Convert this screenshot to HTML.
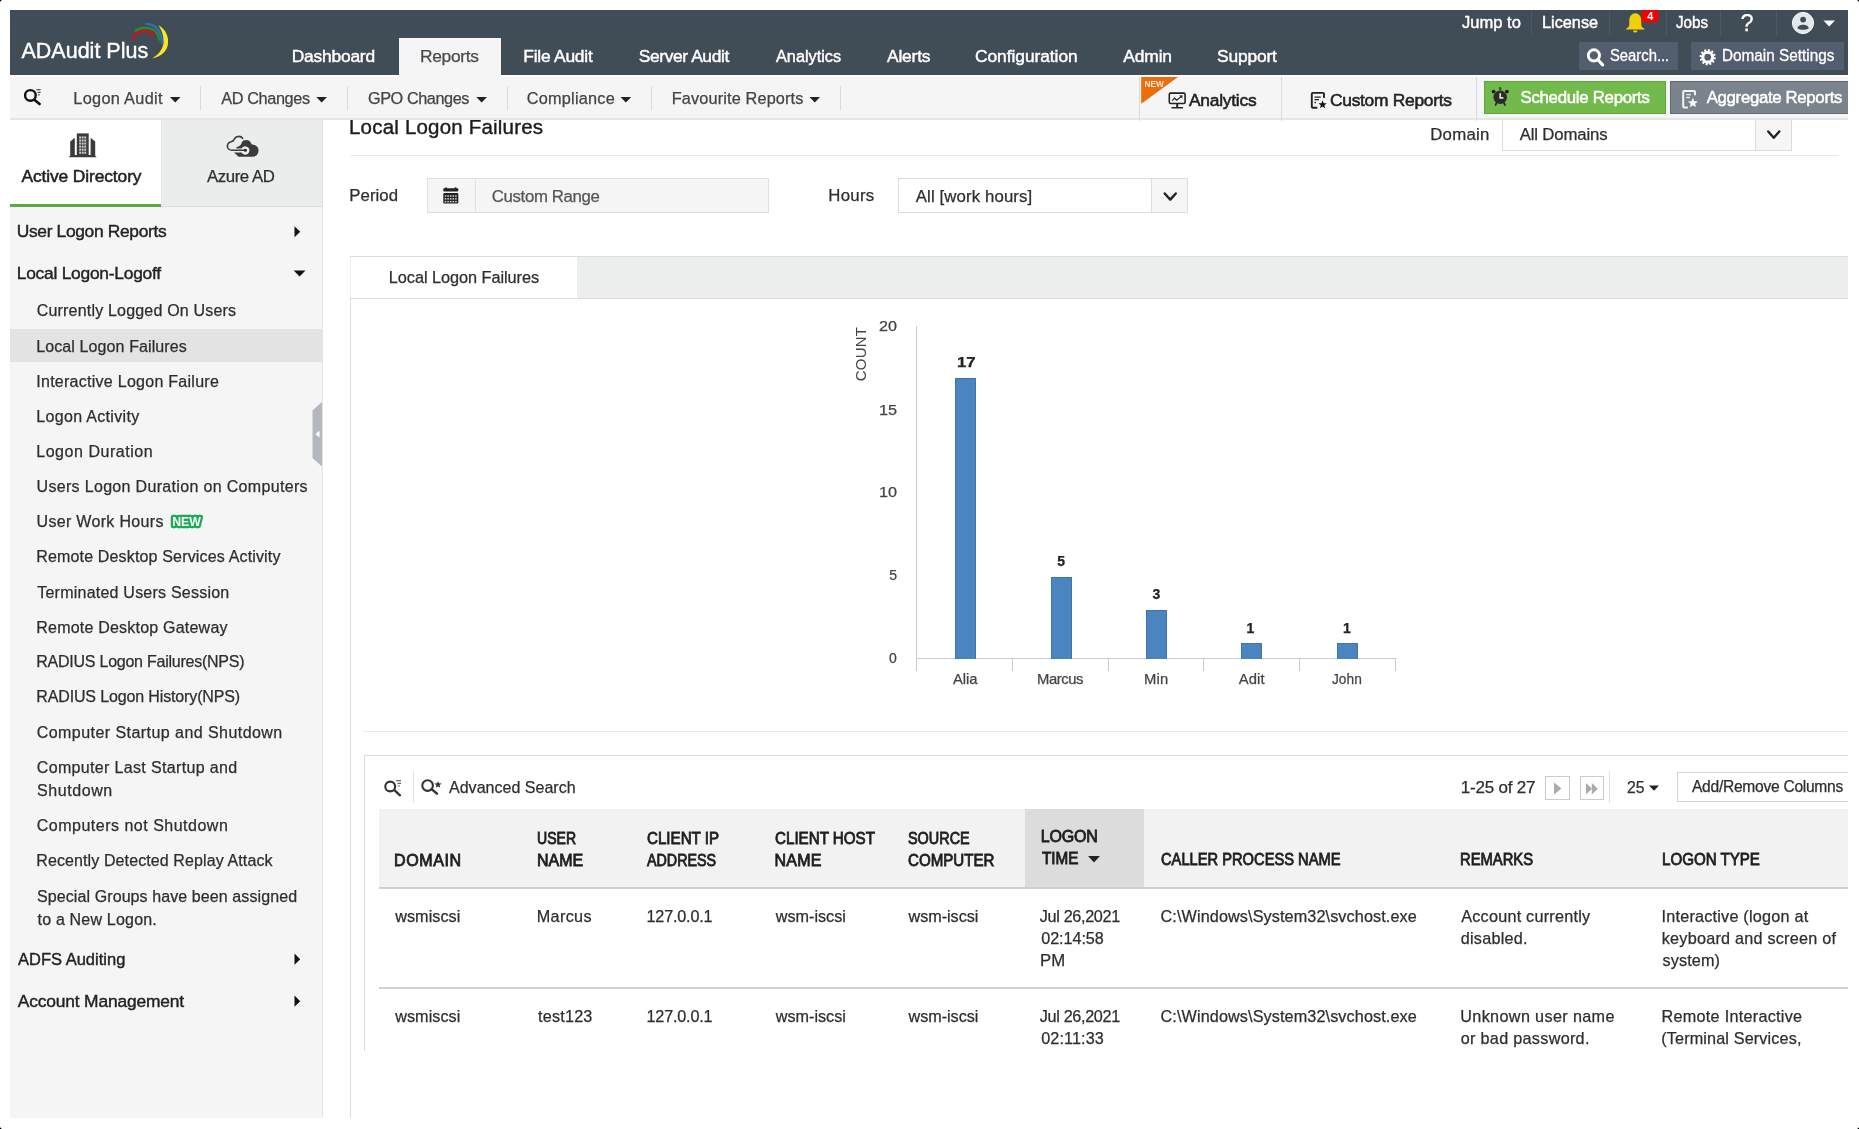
<!DOCTYPE html>
<html><head><meta charset="utf-8"><title>ADAudit Plus</title>
<style>
html,body{margin:0;padding:0;background:#000;}
body{width:1859px;height:1129px;overflow:hidden;position:relative;font-family:"Liberation Sans", sans-serif;}
#pg{position:absolute;left:0;top:0;width:1859px;height:1129px;background:#fff;border-radius:4px;overflow:hidden;filter:blur(0.45px);}
#pg div,#pg span,#pg svg{position:absolute;display:block;box-sizing:border-box;}
#pg span{white-space:pre;font-family:"Liberation Sans", sans-serif;}
</style></head><body><div id="pg">
<div style="left:1502px;top:100px;width:290px;height:51px;background:#fff;border:1px solid #ddd;"></div>
<div style="left:1755px;top:100px;width:37px;height:51px;background:#f6f6f6;border:1px solid #ddd;"></div>
<div style="left:350px;top:155px;width:1489px;height:1px;background:#eaeaea;"></div>
<div style="left:427px;top:178px;width:342px;height:35px;background:#f5f5f5;border:1px solid #e0e0e0;"></div>
<div style="left:898px;top:178px;width:290px;height:35px;background:#fff;border:1px solid #ddd;"></div>
<div style="left:1151px;top:178px;width:37px;height:35px;background:#f6f6f6;border:1px solid #ddd;"></div>
<div style="left:350px;top:256px;width:1px;height:862px;background:#ddd;"></div>
<div style="left:350px;top:256px;width:1498px;height:43px;background:#eceeee;border-top:1px solid #ddd;border-bottom:1px solid #ddd;"></div>
<div style="left:363px;top:731px;width:1485px;height:1px;background:#e9e9e9;"></div>
<div style="left:364px;top:755px;width:1484px;height:1px;background:#dcdcdc;"></div>
<div style="left:364px;top:755px;width:1px;height:296px;background:#dcdcdc;"></div>
<div style="left:379px;top:809px;width:1469px;height:78px;background:#f2f2f2;"></div>
<div style="left:10px;top:120px;width:312px;height:998px;background:#f5f5f5;"></div>
<div style="left:322px;top:120px;width:1px;height:998px;background:#e4e4e4;"></div>
<div style="left:10px;top:120px;width:151px;height:84px;background:#fff;"></div>
<div style="left:161px;top:120px;width:161px;height:86.5px;background:#ebecec;border-bottom:1px solid #dcdcdc;border-left:1px solid #e6e6e6;"></div>
<div style="left:10px;top:329px;width:312px;height:33px;background:#e3e3e4;"></div>
<div style="left:475px;top:179px;width:1px;height:33px;background:#e0e0e0;"></div>
<div style="left:351px;top:257px;width:226px;height:41px;background:#fff;"></div>
<div style="left:916px;top:326px;width:1px;height:333px;background:#c4ccd8;"></div>
<div style="left:916px;top:658px;width:480px;height:1px;background:#c4ccd8;"></div>
<div style="left:916px;top:659px;width:1px;height:12px;background:#c4ccd8;"></div>
<div style="left:1012px;top:659px;width:1px;height:12px;background:#c4ccd8;"></div>
<div style="left:1108px;top:659px;width:1px;height:12px;background:#c4ccd8;"></div>
<div style="left:1203px;top:659px;width:1px;height:12px;background:#c4ccd8;"></div>
<div style="left:1299px;top:659px;width:1px;height:12px;background:#c4ccd8;"></div>
<div style="left:1395px;top:659px;width:1px;height:12px;background:#c4ccd8;"></div>
<div style="left:954.5px;top:377.5px;width:21.0px;height:281.0px;background:#4a85c0;border:1px solid #3f74ac;border-bottom:0;"></div>
<div style="left:1050.75px;top:576.5px;width:20.75px;height:82.0px;background:#4a85c0;border:1px solid #3f74ac;border-bottom:0;"></div>
<div style="left:1145.75px;top:609.5px;width:21.0px;height:49.0px;background:#4a85c0;border:1px solid #3f74ac;border-bottom:0;"></div>
<div style="left:1240.5px;top:642.5px;width:21.25px;height:16.0px;background:#4a85c0;border:1px solid #3f74ac;border-bottom:0;"></div>
<div style="left:1336.75px;top:642.5px;width:21.25px;height:16.0px;background:#4a85c0;border:1px solid #3f74ac;border-bottom:0;"></div>
<div style="left:413px;top:771px;width:1px;height:32px;background:#e0e0e0;"></div>
<div style="left:1545px;top:776px;width:25px;height:24px;background:#fff;border:1px solid #ccc;"></div>
<div style="left:1580px;top:776px;width:24px;height:24px;background:#fff;border:1px solid #ccc;"></div>
<div style="left:1609px;top:771px;width:1px;height:32px;background:#e0e0e0;"></div>
<div style="left:1677px;top:772px;width:183px;height:30px;background:#fff;border:1px solid #d4d4d4;"></div>
<div style="left:1025px;top:809px;width:119px;height:78px;background:#dcdcdc;"></div>
<div style="left:379px;top:886.5px;width:1469px;height:2.0px;background:#cfcfcf;"></div>
<div style="left:379px;top:987px;width:1469px;height:2px;background:#d2d2d2;"></div>
<span style="left:349.00px;top:117px;font-size:20.5px;line-height:20.5px;color:#1c1c1c;letter-spacing:0.197px;-webkit-text-stroke:0.4px #1c1c1c;">Local Logon Failures</span>
<span style="left:1430.25px;top:127px;font-size:16.8px;line-height:16.8px;color:#2e2e2e;letter-spacing:0.250px;-webkit-text-stroke:0.25px #2e2e2e;">Domain</span>
<span style="left:1519.75px;top:127px;font-size:16.8px;line-height:16.8px;color:#2e2e2e;letter-spacing:-0.175px;-webkit-text-stroke:0.25px #2e2e2e;">All Domains</span>
<div style="left:10px;top:10px;width:1838px;height:65px;background:#404c56;"></div>
<div style="left:10px;top:75px;width:1838px;height:43px;background:#f5f5f5;"></div>
<div style="left:10px;top:118px;width:1838px;height:2px;background:#e5e5e5;"></div>
<div style="left:10px;top:203.5px;width:151px;height:3.0px;background:#5aab3e;"></div>
<div style="left:350px;top:298px;width:1498px;height:1px;background:#dcdcdc;"></div>
<div style="left:399px;top:38px;width:102px;height:38px;background:#f5f5f5;"></div>
<div style="left:1531px;top:11px;width:1px;height:24px;background:#4d5963;"></div>
<div style="left:1609px;top:11px;width:1px;height:24px;background:#4d5963;"></div>
<div style="left:1666px;top:11px;width:1px;height:24px;background:#4d5963;"></div>
<div style="left:1720px;top:11px;width:1px;height:24px;background:#4d5963;"></div>
<div style="left:1776px;top:11px;width:1px;height:24px;background:#4d5963;"></div>
<div style="left:1579px;top:42px;width:99px;height:28px;background:#525e6d;"></div>
<div style="left:1691px;top:42px;width:153px;height:28px;background:#525e6d;"></div>
<div style="left:10px;top:75px;width:389px;height:2px;background:#fdfdfd;"></div>
<div style="left:501px;top:75px;width:1347px;height:2px;background:#fdfdfd;"></div>
<div style="left:200px;top:86px;width:1px;height:24px;background:#dcdcdc;"></div>
<div style="left:347px;top:86px;width:1px;height:24px;background:#dcdcdc;"></div>
<div style="left:507px;top:86px;width:1px;height:24px;background:#dcdcdc;"></div>
<div style="left:651px;top:86px;width:1px;height:24px;background:#dcdcdc;"></div>
<div style="left:840px;top:86px;width:1px;height:24px;background:#dcdcdc;"></div>
<div style="left:1139px;top:77px;width:1px;height:44px;background:#dcdcdc;"></div>
<div style="left:1281px;top:77px;width:1px;height:44px;background:#dcdcdc;"></div>
<div style="left:1476px;top:77px;width:1px;height:44px;background:#dcdcdc;"></div>
<div style="left:1484px;top:81px;width:182px;height:33px;background:#72ba4b;border:1px solid #62a53d;"></div>
<div style="left:1670px;top:81px;width:178px;height:33px;background:#7b838d;border:1px solid #626a73;border-right:0;"></div>
<span style="left:860px;top:353.7px;font-size:15px;line-height:15px;color:#444;letter-spacing:0.2px;transform:translate(-50%,-50%) rotate(-90deg);">COUNT</span>
<span style="left:349.25px;top:188px;font-size:16.8px;line-height:16.8px;color:#2e2e2e;letter-spacing:0.050px;-webkit-text-stroke:0.25px #2e2e2e;">Period</span>
<span style="left:491.75px;top:189px;font-size:16.8px;line-height:16.8px;color:#555;letter-spacing:-0.341px;-webkit-text-stroke:0.25px #555;">Custom Range</span>
<span style="left:828.25px;top:188px;font-size:16.8px;line-height:16.8px;color:#2e2e2e;letter-spacing:0.312px;-webkit-text-stroke:0.25px #2e2e2e;">Hours</span>
<span style="left:915.75px;top:189px;font-size:16.8px;line-height:16.8px;color:#2e2e2e;letter-spacing:0.117px;-webkit-text-stroke:0.25px #2e2e2e;">All [work hours]</span>
<span style="left:388.75px;top:269px;font-size:16.3px;line-height:16.3px;color:#2e2e2e;letter-spacing:-0.039px;-webkit-text-stroke:0.25px #2e2e2e;">Local Logon Failures</span>
<span style="left:879.42px;top:319px;font-size:14px;line-height:14px;color:#444;transform:scaleX(1.1525);transform-origin:0 0;-webkit-text-stroke:0.25px #444;">20</span>
<span style="left:879.34px;top:403px;font-size:14px;line-height:14px;color:#444;transform:scaleX(1.1579);transform-origin:0 0;-webkit-text-stroke:0.25px #444;">15</span>
<span style="left:879.34px;top:485px;font-size:14px;line-height:14px;color:#444;transform:scaleX(1.1579);transform-origin:0 0;-webkit-text-stroke:0.25px #444;">10</span>
<span style="left:889.25px;top:568px;font-size:14px;line-height:14px;color:#444;-webkit-text-stroke:0.25px #444;">5</span>
<span style="left:889.12px;top:651px;font-size:14px;line-height:14px;color:#444;-webkit-text-stroke:0.25px #444;">0</span>
<span style="left:956.61px;top:355px;font-size:14px;line-height:14px;color:#222;font-weight:700;transform:scaleX(1.1930);transform-origin:0 0;-webkit-text-stroke:0.25px #222;">17</span>
<span style="left:1057.25px;top:554px;font-size:14px;line-height:14px;color:#222;font-weight:700;-webkit-text-stroke:0.25px #222;">5</span>
<span style="left:1152.38px;top:587px;font-size:14px;line-height:14px;color:#222;font-weight:700;-webkit-text-stroke:0.25px #222;">3</span>
<span style="left:1246.50px;top:621px;font-size:14px;line-height:14px;color:#222;font-weight:700;-webkit-text-stroke:0.25px #222;">1</span>
<span style="left:1342.88px;top:621px;font-size:14px;line-height:14px;color:#222;font-weight:700;-webkit-text-stroke:0.25px #222;">1</span>
<span style="left:953.00px;top:672px;font-size:14.8px;line-height:14.8px;color:#444;letter-spacing:-0.083px;-webkit-text-stroke:0.25px #444;">Alia</span>
<span style="left:1037.00px;top:672px;font-size:14.8px;line-height:14.8px;color:#444;letter-spacing:-0.400px;-webkit-text-stroke:0.25px #444;">Marcus</span>
<span style="left:1144.00px;top:672px;font-size:14.8px;line-height:14.8px;color:#444;letter-spacing:0.250px;-webkit-text-stroke:0.25px #444;">Min</span>
<span style="left:1238.75px;top:672px;font-size:14.8px;line-height:14.8px;color:#444;letter-spacing:0.083px;-webkit-text-stroke:0.25px #444;">Adit</span>
<span style="left:1332.27px;top:672px;font-size:14.8px;line-height:14.8px;color:#444;transform:scaleX(0.9274);transform-origin:0 0;-webkit-text-stroke:0.25px #444;">John</span>
<span style="left:449.25px;top:779px;font-size:17px;line-height:17px;color:#2e2e2e;transform:scaleX(0.9437);transform-origin:0 0;-webkit-text-stroke:0.25px #2e2e2e;">Advanced Search</span>
<span style="left:1460.75px;top:779px;font-size:17px;line-height:17px;color:#2e2e2e;letter-spacing:-0.194px;-webkit-text-stroke:0.25px #2e2e2e;">1-25 of 27</span>
<span style="left:1627.05px;top:779px;font-size:17px;line-height:17px;color:#2e2e2e;transform:scaleX(0.9286);transform-origin:0 0;-webkit-text-stroke:0.25px #2e2e2e;">25</span>
<span style="left:1692.00px;top:779px;font-size:15.6px;line-height:15.6px;color:#2e2e2e;letter-spacing:-0.279px;-webkit-text-stroke:0.25px #2e2e2e;">Add/Remove Columns</span>
<span style="left:394.00px;top:853px;font-size:16px;line-height:16px;color:#1e1e1e;letter-spacing:0.600px;-webkit-text-stroke:0.8px #1e1e1e;">DOMAIN</span>
<span style="left:537.34px;top:831px;font-size:16px;line-height:16px;color:#1e1e1e;transform:scaleX(0.8793);transform-origin:0 0;-webkit-text-stroke:0.8px #1e1e1e;">USER</span>
<span style="left:537.00px;top:853px;font-size:16px;line-height:16px;color:#1e1e1e;-webkit-text-stroke:0.8px #1e1e1e;">NAME</span>
<span style="left:646.53px;top:831px;font-size:16px;line-height:16px;color:#1e1e1e;transform:scaleX(0.9468);transform-origin:0 0;-webkit-text-stroke:0.8px #1e1e1e;">CLIENT IP</span>
<span style="left:647.45px;top:853px;font-size:16px;line-height:16px;color:#1e1e1e;transform:scaleX(0.8935);transform-origin:0 0;-webkit-text-stroke:0.8px #1e1e1e;">ADDRESS</span>
<span style="left:775.03px;top:831px;font-size:16px;line-height:16px;color:#1e1e1e;transform:scaleX(0.9476);transform-origin:0 0;-webkit-text-stroke:0.8px #1e1e1e;">CLIENT HOST</span>
<span style="left:774.50px;top:853px;font-size:16px;line-height:16px;color:#1e1e1e;letter-spacing:0.250px;-webkit-text-stroke:0.8px #1e1e1e;">NAME</span>
<span style="left:908.02px;top:831px;font-size:16px;line-height:16px;color:#1e1e1e;transform:scaleX(0.9007);transform-origin:0 0;-webkit-text-stroke:0.8px #1e1e1e;">SOURCE</span>
<span style="left:907.78px;top:853px;font-size:16px;line-height:16px;color:#1e1e1e;transform:scaleX(0.9451);transform-origin:0 0;-webkit-text-stroke:0.8px #1e1e1e;">COMPUTER</span>
<span style="left:1040.75px;top:829px;font-size:16px;line-height:16px;color:#1e1e1e;letter-spacing:-0.188px;-webkit-text-stroke:0.8px #1e1e1e;">LOGON</span>
<span style="left:1041.75px;top:851px;font-size:16px;line-height:16px;color:#1e1e1e;transform:scaleX(0.9539);transform-origin:0 0;-webkit-text-stroke:0.8px #1e1e1e;">TIME</span>
<span style="left:1160.79px;top:852px;font-size:16px;line-height:16px;color:#1e1e1e;transform:scaleX(0.9178);transform-origin:0 0;-webkit-text-stroke:0.8px #1e1e1e;">CALLER PROCESS NAME</span>
<span style="left:1460.33px;top:852px;font-size:16px;line-height:16px;color:#1e1e1e;transform:scaleX(0.9228);transform-origin:0 0;-webkit-text-stroke:0.8px #1e1e1e;">REMARKS</span>
<span style="left:1661.81px;top:852px;font-size:16px;line-height:16px;color:#1e1e1e;transform:scaleX(0.9439);transform-origin:0 0;-webkit-text-stroke:0.8px #1e1e1e;">LOGON TYPE</span>
<span style="left:395.25px;top:908px;font-size:16.2px;line-height:16.2px;color:#2e2e2e;letter-spacing:0.036px;-webkit-text-stroke:0.25px #2e2e2e;">wsmiscsi</span>
<span style="left:536.75px;top:908px;font-size:16.2px;line-height:16.2px;color:#2e2e2e;letter-spacing:0.350px;-webkit-text-stroke:0.25px #2e2e2e;">Marcus</span>
<span style="left:646.50px;top:908px;font-size:16.2px;line-height:16.2px;color:#2e2e2e;letter-spacing:-0.188px;-webkit-text-stroke:0.25px #2e2e2e;">127.0.0.1</span>
<span style="left:775.75px;top:908px;font-size:16.2px;line-height:16.2px;color:#2e2e2e;-webkit-text-stroke:0.25px #2e2e2e;">wsm-iscsi</span>
<span style="left:908.50px;top:908px;font-size:16.2px;line-height:16.2px;color:#2e2e2e;letter-spacing:-0.031px;-webkit-text-stroke:0.25px #2e2e2e;">wsm-iscsi</span>
<span style="left:1039.75px;top:908px;font-size:16.2px;line-height:16.2px;color:#2e2e2e;letter-spacing:-0.325px;-webkit-text-stroke:0.25px #2e2e2e;">Jul 26,2021</span>
<span style="left:1041.25px;top:930px;font-size:16.2px;line-height:16.2px;color:#2e2e2e;letter-spacing:-0.071px;-webkit-text-stroke:0.25px #2e2e2e;">02:14:58</span>
<span style="left:1040.46px;top:952px;font-size:16.2px;line-height:16.2px;color:#2e2e2e;transform:scaleX(1.0345);transform-origin:0 0;-webkit-text-stroke:0.25px #2e2e2e;">PM</span>
<span style="left:1160.50px;top:908px;font-size:16.2px;line-height:16.2px;color:#2e2e2e;letter-spacing:0.117px;-webkit-text-stroke:0.25px #2e2e2e;">C:\Windows\System32\svchost.exe</span>
<span style="left:1461.25px;top:908px;font-size:16.2px;line-height:16.2px;color:#2e2e2e;letter-spacing:0.234px;-webkit-text-stroke:0.25px #2e2e2e;">Account currently</span>
<span style="left:1460.75px;top:930px;font-size:16.2px;line-height:16.2px;color:#2e2e2e;letter-spacing:0.250px;-webkit-text-stroke:0.25px #2e2e2e;">disabled.</span>
<span style="left:1661.50px;top:908px;font-size:16.2px;line-height:16.2px;color:#2e2e2e;letter-spacing:0.225px;-webkit-text-stroke:0.25px #2e2e2e;">Interactive (logon at</span>
<span style="left:1661.75px;top:930px;font-size:16.2px;line-height:16.2px;color:#2e2e2e;letter-spacing:0.238px;-webkit-text-stroke:0.25px #2e2e2e;">keyboard and screen of</span>
<span style="left:1662.50px;top:952px;font-size:16.2px;line-height:16.2px;color:#2e2e2e;letter-spacing:0.125px;-webkit-text-stroke:0.25px #2e2e2e;">system)</span>
<span style="left:395.25px;top:1008px;font-size:16.2px;line-height:16.2px;color:#2e2e2e;letter-spacing:0.036px;-webkit-text-stroke:0.25px #2e2e2e;">wsmiscsi</span>
<span style="left:538.00px;top:1008px;font-size:16.2px;line-height:16.2px;color:#2e2e2e;letter-spacing:0.208px;-webkit-text-stroke:0.25px #2e2e2e;">test123</span>
<span style="left:646.50px;top:1008px;font-size:16.2px;line-height:16.2px;color:#2e2e2e;letter-spacing:-0.188px;-webkit-text-stroke:0.25px #2e2e2e;">127.0.0.1</span>
<span style="left:775.75px;top:1008px;font-size:16.2px;line-height:16.2px;color:#2e2e2e;-webkit-text-stroke:0.25px #2e2e2e;">wsm-iscsi</span>
<span style="left:908.50px;top:1008px;font-size:16.2px;line-height:16.2px;color:#2e2e2e;letter-spacing:-0.031px;-webkit-text-stroke:0.25px #2e2e2e;">wsm-iscsi</span>
<span style="left:1039.75px;top:1008px;font-size:16.2px;line-height:16.2px;color:#2e2e2e;letter-spacing:-0.325px;-webkit-text-stroke:0.25px #2e2e2e;">Jul 26,2021</span>
<span style="left:1041.25px;top:1030px;font-size:16.2px;line-height:16.2px;color:#2e2e2e;letter-spacing:0.107px;-webkit-text-stroke:0.25px #2e2e2e;">02:11:33</span>
<span style="left:1160.50px;top:1008px;font-size:16.2px;line-height:16.2px;color:#2e2e2e;letter-spacing:0.117px;-webkit-text-stroke:0.25px #2e2e2e;">C:\Windows\System32\svchost.exe</span>
<span style="left:1460.25px;top:1008px;font-size:16.2px;line-height:16.2px;color:#2e2e2e;letter-spacing:0.359px;-webkit-text-stroke:0.25px #2e2e2e;">Unknown user name</span>
<span style="left:1460.75px;top:1030px;font-size:16.2px;line-height:16.2px;color:#2e2e2e;letter-spacing:0.300px;-webkit-text-stroke:0.25px #2e2e2e;">or bad password.</span>
<span style="left:1661.50px;top:1008px;font-size:16.2px;line-height:16.2px;color:#2e2e2e;letter-spacing:0.279px;-webkit-text-stroke:0.25px #2e2e2e;">Remote Interactive</span>
<span style="left:1661.25px;top:1030px;font-size:16.2px;line-height:16.2px;color:#2e2e2e;letter-spacing:0.139px;-webkit-text-stroke:0.25px #2e2e2e;">(Terminal Services,</span>
<span style="left:21.50px;top:41px;font-size:21.5px;line-height:21.5px;color:#fff;-webkit-text-stroke:0.4px #fff;">ADAudit Plus</span>
<span style="left:291.75px;top:48px;font-size:17.4px;line-height:17.4px;color:#fff;letter-spacing:-0.219px;-webkit-text-stroke:0.45px #fff;">Dashboard</span>
<span style="left:523.25px;top:48px;font-size:17.4px;line-height:17.4px;color:#fff;letter-spacing:-0.222px;-webkit-text-stroke:0.45px #fff;">File Audit</span>
<span style="left:638.75px;top:48px;font-size:17.4px;line-height:17.4px;color:#fff;letter-spacing:-0.386px;-webkit-text-stroke:0.45px #fff;">Server Audit</span>
<span style="left:775.73px;top:48px;font-size:17.4px;line-height:17.4px;color:#fff;transform:scaleX(0.9353);transform-origin:0 0;-webkit-text-stroke:0.45px #fff;">Analytics</span>
<span style="left:887.00px;top:48px;font-size:17.4px;line-height:17.4px;color:#fff;letter-spacing:-0.200px;-webkit-text-stroke:0.45px #fff;">Alerts</span>
<span style="left:975.00px;top:48px;font-size:17.4px;line-height:17.4px;color:#fff;letter-spacing:-0.062px;-webkit-text-stroke:0.45px #fff;">Configuration</span>
<span style="left:1123.25px;top:48px;font-size:17.4px;line-height:17.4px;color:#fff;letter-spacing:-0.125px;-webkit-text-stroke:0.45px #fff;">Admin</span>
<span style="left:1217.00px;top:48px;font-size:17.4px;line-height:17.4px;color:#fff;letter-spacing:-0.167px;-webkit-text-stroke:0.45px #fff;">Support</span>
<span style="left:420.05px;top:48px;font-size:17.4px;line-height:17.4px;color:#4a4a4a;letter-spacing:-0.342px;-webkit-text-stroke:0.25px #4a4a4a;">Reports</span>
<span style="left:1462.00px;top:14px;font-size:17.4px;line-height:17.4px;color:#fff;transform:scaleX(0.9510);transform-origin:0 0;-webkit-text-stroke:0.45px #fff;">Jump to</span>
<span style="left:1542.08px;top:14px;font-size:17.4px;line-height:17.4px;color:#fff;transform:scaleX(0.9356);transform-origin:0 0;-webkit-text-stroke:0.45px #fff;">License</span>
<span style="left:1676.00px;top:14px;font-size:17.4px;line-height:17.4px;color:#fff;transform:scaleX(0.8759);transform-origin:0 0;-webkit-text-stroke:0.45px #fff;">Jobs</span>
<span style="left:1740.38px;top:12px;font-size:23.5px;line-height:23.5px;color:#fff;-webkit-text-stroke:0.25px #fff;">?</span>
<span style="left:1610.30px;top:47px;font-size:16.3px;line-height:16.3px;color:#fff;transform:scaleX(0.9091);transform-origin:0 0;-webkit-text-stroke:0.3px #fff;">Search...</span>
<span style="left:1721.57px;top:47px;font-size:16.3px;line-height:16.3px;color:#fff;transform:scaleX(0.9406);transform-origin:0 0;-webkit-text-stroke:0.3px #fff;">Domain Settings</span>
<span style="left:73.25px;top:90px;font-size:16.3px;line-height:16.3px;color:#444;letter-spacing:0.325px;-webkit-text-stroke:0.25px #444;">Logon Audit</span>
<span style="left:221.25px;top:90px;font-size:16.3px;line-height:16.3px;color:#444;letter-spacing:-0.389px;-webkit-text-stroke:0.25px #444;">AD Changes</span>
<span style="left:368.00px;top:90px;font-size:16.3px;line-height:16.3px;color:#444;letter-spacing:-0.450px;-webkit-text-stroke:0.25px #444;">GPO Changes</span>
<span style="left:526.75px;top:90px;font-size:16.3px;line-height:16.3px;color:#444;letter-spacing:0.222px;-webkit-text-stroke:0.25px #444;">Compliance</span>
<span style="left:671.75px;top:90px;font-size:16.3px;line-height:16.3px;color:#444;letter-spacing:0.141px;-webkit-text-stroke:0.25px #444;">Favourite Reports</span>
<span style="left:1189.00px;top:92px;font-size:17.4px;line-height:17.4px;color:#222;letter-spacing:-0.250px;-webkit-text-stroke:0.55px #222;">Analytics</span>
<span style="left:1330.00px;top:92px;font-size:17.4px;line-height:17.4px;color:#222;letter-spacing:-0.288px;-webkit-text-stroke:0.55px #222;">Custom Reports</span>
<span style="left:1520.50px;top:90px;font-size:16.8px;line-height:16.8px;color:#fff;letter-spacing:-0.267px;-webkit-text-stroke:0.5px #fff;">Schedule Reports</span>
<span style="left:1706.75px;top:90px;font-size:16.8px;line-height:16.8px;color:#fff;letter-spacing:-0.328px;-webkit-text-stroke:0.5px #fff;">Aggregate Reports</span>
<span style="left:21.50px;top:168px;font-size:17.4px;line-height:17.4px;color:#222;letter-spacing:-0.117px;-webkit-text-stroke:0.5px #222;">Active Directory</span>
<span style="left:207.00px;top:169px;font-size:16.8px;line-height:16.8px;color:#2e2e2e;letter-spacing:-0.429px;-webkit-text-stroke:0.25px #2e2e2e;">Azure AD</span>
<span style="left:16.75px;top:223px;font-size:17.4px;line-height:17.4px;color:#222;letter-spacing:-0.338px;-webkit-text-stroke:0.4px #222;">User Logon Reports</span>
<span style="left:16.75px;top:265px;font-size:17.4px;line-height:17.4px;color:#222;letter-spacing:-0.250px;-webkit-text-stroke:0.4px #222;">Local Logon-Logoff</span>
<span style="left:17.74px;top:951px;font-size:17.4px;line-height:17.4px;color:#222;transform:scaleX(0.9489);transform-origin:0 0;-webkit-text-stroke:0.4px #222;">ADFS Auditing</span>
<span style="left:17.75px;top:993px;font-size:17.4px;line-height:17.4px;color:#222;letter-spacing:-0.162px;-webkit-text-stroke:0.4px #222;">Account Management</span>
<span style="left:36.75px;top:303px;font-size:16px;line-height:16px;color:#2e2e2e;letter-spacing:0.188px;-webkit-text-stroke:0.25px #2e2e2e;">Currently Logged On Users</span>
<span style="left:36.25px;top:339px;font-size:16px;line-height:16px;color:#2e2e2e;letter-spacing:0.105px;-webkit-text-stroke:0.25px #2e2e2e;">Local Logon Failures</span>
<span style="left:36.25px;top:374px;font-size:16px;line-height:16px;color:#2e2e2e;letter-spacing:0.271px;-webkit-text-stroke:0.25px #2e2e2e;">Interactive Logon Failure</span>
<span style="left:36.25px;top:409px;font-size:16px;line-height:16px;color:#2e2e2e;letter-spacing:0.327px;-webkit-text-stroke:0.25px #2e2e2e;">Logon Activity</span>
<span style="left:36.25px;top:444px;font-size:16px;line-height:16px;color:#2e2e2e;letter-spacing:0.538px;-webkit-text-stroke:0.25px #2e2e2e;">Logon Duration</span>
<span style="left:36.50px;top:479px;font-size:16px;line-height:16px;color:#2e2e2e;letter-spacing:0.328px;-webkit-text-stroke:0.25px #2e2e2e;">Users Logon Duration on Computers</span>
<span style="left:36.50px;top:514px;font-size:16px;line-height:16px;color:#2e2e2e;letter-spacing:0.321px;-webkit-text-stroke:0.25px #2e2e2e;">User Work Hours</span>
<span style="left:36.25px;top:549px;font-size:16px;line-height:16px;color:#2e2e2e;letter-spacing:0.161px;-webkit-text-stroke:0.25px #2e2e2e;">Remote Desktop Services Activity</span>
<span style="left:37.25px;top:585px;font-size:16px;line-height:16px;color:#2e2e2e;letter-spacing:0.228px;-webkit-text-stroke:0.25px #2e2e2e;">Terminated Users Session</span>
<span style="left:36.25px;top:620px;font-size:16px;line-height:16px;color:#2e2e2e;letter-spacing:0.214px;-webkit-text-stroke:0.25px #2e2e2e;">Remote Desktop Gateway</span>
<span style="left:36.25px;top:654px;font-size:16px;line-height:16px;color:#2e2e2e;letter-spacing:-0.240px;-webkit-text-stroke:0.25px #2e2e2e;">RADIUS Logon Failures(NPS)</span>
<span style="left:36.25px;top:689px;font-size:16px;line-height:16px;color:#2e2e2e;letter-spacing:-0.135px;-webkit-text-stroke:0.25px #2e2e2e;">RADIUS Logon History(NPS)</span>
<span style="left:36.75px;top:725px;font-size:16px;line-height:16px;color:#2e2e2e;letter-spacing:0.446px;-webkit-text-stroke:0.25px #2e2e2e;">Computer Startup and Shutdown</span>
<span style="left:36.75px;top:760px;font-size:16px;line-height:16px;color:#2e2e2e;letter-spacing:0.344px;-webkit-text-stroke:0.25px #2e2e2e;">Computer Last Startup and</span>
<span style="left:37.00px;top:783px;font-size:16px;line-height:16px;color:#2e2e2e;letter-spacing:0.571px;-webkit-text-stroke:0.25px #2e2e2e;">Shutdown</span>
<span style="left:36.75px;top:818px;font-size:16px;line-height:16px;color:#2e2e2e;letter-spacing:0.500px;-webkit-text-stroke:0.25px #2e2e2e;">Computers not Shutdown</span>
<span style="left:36.25px;top:853px;font-size:16px;line-height:16px;color:#2e2e2e;letter-spacing:0.108px;-webkit-text-stroke:0.25px #2e2e2e;">Recently Detected Replay Attack</span>
<span style="left:37.00px;top:889px;font-size:16px;line-height:16px;color:#2e2e2e;letter-spacing:0.094px;-webkit-text-stroke:0.25px #2e2e2e;">Special Groups have been assigned</span>
<span style="left:37.50px;top:912px;font-size:16px;line-height:16px;color:#2e2e2e;letter-spacing:0.196px;-webkit-text-stroke:0.25px #2e2e2e;">to a New Logon.</span>
<svg style="left:0;top:0" width="1859" height="1129" viewBox="0 0 1859 1129"><path d="M158.2,25.3 C166,29 169.6,38 167.6,46 C165.6,53 159,57.3 152,58.4 C158,55 162.4,50 163.3,44 C164.2,37 162,30 158.2,25.3Z" fill="#fbe624"/><path d="M146.5,24 C155,24.2 160.8,30 162.3,43" fill="none" stroke="#2f6fb4" stroke-width="2.7" stroke-linecap="round"/><path d="M135.8,30.6 C142,26.3 152,27 156.2,32.2 C158,34.5 158.9,37 159.3,39.6" fill="none" stroke="#2e8a2f" stroke-width="2.4" stroke-linecap="round"/><path d="M133.7,39.3 C134,33.5 140.5,30.6 146,31 C150,31.4 152.7,33.3 153.9,35.6" fill="none" stroke="#c5161d" stroke-width="2.6" stroke-linecap="round"/><circle cx="30.4" cy="95.4" r="5.3" fill="none" stroke="#111" stroke-width="2.4"/><line x1="34.6" y1="99.9" x2="39.6" y2="104" stroke="#111" stroke-width="2.6" stroke-linecap="round"/><line x1="36.4" y1="89.6" x2="40.6" y2="89.6" stroke="#555" stroke-width="1.2"/><line x1="37.6" y1="92.3" x2="40.6" y2="92.3" stroke="#555" stroke-width="1.2"/><line x1="37.9" y1="94.9" x2="39.6" y2="94.9" stroke="#555" stroke-width="1.2"/><circle cx="390.2" cy="786.5" r="4.9" fill="none" stroke="#333" stroke-width="2.1"/><line x1="394.4" y1="790.2" x2="400" y2="795.3" stroke="#333" stroke-width="2.3000000000000003" stroke-linecap="round"/><line x1="396.2" y1="780.7" x2="401" y2="780.7" stroke="#666" stroke-width="1.2"/><line x1="397.5" y1="783.3" x2="401" y2="783.3" stroke="#666" stroke-width="1.2"/><line x1="397.6" y1="786" x2="399.8" y2="786" stroke="#666" stroke-width="1.2"/><circle cx="427.6" cy="785.6" r="5.3" fill="none" stroke="#333" stroke-width="2.1"/><line x1="431.8" y1="789.3" x2="437" y2="793.7" stroke="#333" stroke-width="2.4" stroke-linecap="round"/><polygon points="438.00,780.90 439.00,783.32 441.61,783.53 439.62,785.23 440.23,787.77 438.00,786.40 435.77,787.77 436.38,785.23 434.39,783.53 437.00,783.32" fill="#3a3a3a"/><polygon points="170,97 180.5,97 175.25,102.5" fill="#222"/><polygon points="316.3,97 327,97 321.65,102.5" fill="#222"/><polygon points="476.3,97 487,97 481.65,102.5" fill="#222"/><polygon points="620.5,97 631.2,97 625.85,102.5" fill="#222"/><polygon points="809.5,97 820,97 814.75,102.5" fill="#222"/><polygon points="1823.4,20.5 1835,20.5 1829.2,26.6" fill="#fff"/><polygon points="1088,856 1100,856 1094.0,862.5" fill="#222"/><polygon points="1649,785.5 1659,785.5 1654.0,790.7" fill="#222"/><polygon points="293.7,270.5 305.5,270.5 299.6,276.5" fill="#111"/><polygon points="294.5,226.2 300.2,231.7 294.5,237.2" fill="#111"/><polygon points="294.5,953.5 300.2,959.15 294.5,964.8" fill="#111"/><polygon points="294.5,995.5 300.2,1001.15 294.5,1006.8" fill="#111"/><polygon points="1554,782.5 1561.5,788.5 1554,794.5" fill="#aaa"/><polygon points="1586,783 1592,788.75 1586,794.5" fill="#aaa"/><polygon points="1591.8,783 1597.8,788.75 1591.8,794.5" fill="#aaa"/><g fill="#3b3b3b"><rect x="76.8" y="133.4" width="11.9" height="22.6"/><polygon points="70.2,141.6 74.8,137.7 74.8,155.8 70.2,155.8"/><polygon points="90.6,137.7 95.2,141.6 95.2,155.8 90.6,155.8"/><polygon points="68.7,157.2 70.8,155 94.6,155 96.7,157.2"/></g><rect x="79.20" y="136.40" width="1.9" height="2.1" fill="#c9ccd0"/><rect x="81.75" y="136.40" width="1.9" height="2.1" fill="#c9ccd0"/><rect x="84.30" y="136.40" width="1.9" height="2.1" fill="#c9ccd0"/><rect x="79.20" y="139.45" width="1.9" height="2.1" fill="#c9ccd0"/><rect x="81.75" y="139.45" width="1.9" height="2.1" fill="#c9ccd0"/><rect x="84.30" y="139.45" width="1.9" height="2.1" fill="#c9ccd0"/><rect x="79.20" y="142.50" width="1.9" height="2.1" fill="#c9ccd0"/><rect x="81.75" y="142.50" width="1.9" height="2.1" fill="#c9ccd0"/><rect x="84.30" y="142.50" width="1.9" height="2.1" fill="#c9ccd0"/><rect x="79.20" y="145.55" width="1.9" height="2.1" fill="#c9ccd0"/><rect x="81.75" y="145.55" width="1.9" height="2.1" fill="#c9ccd0"/><rect x="84.30" y="145.55" width="1.9" height="2.1" fill="#c9ccd0"/><rect x="79.20" y="148.60" width="1.9" height="2.1" fill="#c9ccd0"/><rect x="81.75" y="148.60" width="1.9" height="2.1" fill="#c9ccd0"/><rect x="84.30" y="148.60" width="1.9" height="2.1" fill="#c9ccd0"/><rect x="79.20" y="151.65" width="1.9" height="2.1" fill="#c9ccd0"/><rect x="81.75" y="151.65" width="1.9" height="2.1" fill="#c9ccd0"/><rect x="84.30" y="151.65" width="1.9" height="2.1" fill="#c9ccd0"/><path d="M236.3,147.3 C239.5,146.6 241.3,144.6 241.9,142.2 C243.2,139.4 248.6,139 250.7,142.4 C251.2,143.6 251.8,144.3 252.6,144.6 C256.6,145 258.8,148 258.5,151 C258.2,154.4 256,156.8 252.6,156.8 L238.6,156.8 L234,152.6 L241.6,152.6 C243,155 246.8,155.6 248.6,153 C250.4,150.4 249.2,146.8 246,146.4 C243.8,146.2 242.4,147.2 241.6,148.6 L236.6,148.6Z" fill="#3b3b3b"/><path d="M242.7,138.4 C241,135.6 235.6,135.6 234,139.6 C233.4,141 232.4,141.4 231,141.7 C228,142.4 226.6,145.2 227.8,148 C228.6,149.6 229.8,150.3 231.6,150.3 L245,150.3" fill="none" stroke="#3b3b3b" stroke-width="1.6" stroke-linecap="round"/><circle cx="245.4" cy="150.3" r="1.5" fill="#222"/><g transform="translate(1625,12)"><path d="M10.3,1.2 C14.5,1.2 16.3,5 16.3,9 L16.3,13 C16.3,14.6 18,15.9 19.3,16.6 L19.3,17.6 L1.3,17.6 L1.3,16.6 C2.6,15.9 4.3,14.6 4.3,13 L4.3,9 C4.3,5 6.1,1.2 10.3,1.2Z" fill="#f3d00c"/><path d="M8.1,18.4 a2.2,2.2 0 0 0 4.4,0Z" fill="#f3d00c"/></g><rect x="1641.5" y="10" width="17" height="12.2" rx="2" fill="#ee0202"/><circle cx="1803" cy="23" r="10.6" fill="#e3e8ed" stroke="#f7f9fb" stroke-width="1"/><circle cx="1803.1" cy="19.6" r="2.9" fill="#414c56"/><path d="M1797.5,28.4 C1797.5,23.4 1808.7,23.4 1808.7,28.4 C1805.5,30.2 1800.7,30.2 1797.5,28.4Z" fill="#414c56"/><circle cx="1593.9" cy="55.4" r="5.6" fill="none" stroke="#fff" stroke-width="2.9"/><line x1="1598.2" y1="60" x2="1602.6" y2="64.8" stroke="#fff" stroke-width="3.2" stroke-linecap="round"/><circle cx="1707.7" cy="57.2" r="4.9" fill="none" stroke="#fff" stroke-width="3.1"/><circle cx="1707.7" cy="57.2" r="7" fill="none" stroke="#fff" stroke-width="2.2" stroke-dasharray="1.95 1.715"/><polygon points="1141.2,77 1178,77 1141.2,103.8" fill="#ec6d09"/><rect x="1169.3" y="93.1" width="15.8" height="10.4" rx="1.4" fill="none" stroke="#222" stroke-width="1.6"/><rect x="1176.2" y="104" width="2" height="3.4" fill="#222"/><rect x="1171.4" y="107" width="11.7" height="1.6" rx="0.5" fill="#222"/><polyline points="1172.2,100.6 1174.4,98.2 1176.8,100.2 1181,96.6" fill="none" stroke="#222" stroke-width="1.2"/><polygon points="1179.2,95.4 1182.6,95.2 1182.2,98.6" fill="#222"/><path d="M1324,97.2 L1324,93.9 Q1324,92.9 1323,92.9 L1312.8,92.9 Q1311.8,92.9 1311.8,93.9 L1311.8,106.8 Q1311.8,107.8 1312.8,107.8 L1316.6,107.8" fill="none" stroke="#222" stroke-width="1.9" stroke-linecap="round"/><line x1="1314.5" y1="97.1" x2="1320.7" y2="97.1" stroke="#222" stroke-width="1.3"/><line x1="1314.5" y1="99.7" x2="1319" y2="99.7" stroke="#222" stroke-width="1.3"/><line x1="1314.5" y1="102.5" x2="1316" y2="102.5" stroke="#222" stroke-width="1.3"/><polygon points="1322.60,100.30 1323.72,103.16 1326.78,103.34 1324.41,105.29 1325.19,108.26 1322.60,106.60 1320.01,108.26 1320.79,105.29 1318.42,103.34 1321.48,103.16" fill="#111"/><circle cx="1500.2" cy="97.3" r="6.7" fill="#2b2b2b"/><circle cx="1493.6" cy="91.6" r="1.9" fill="#1d1d1d"/><circle cx="1506.9" cy="91.6" r="1.9" fill="#1d1d1d"/><rect x="1499.1" y="87.2" width="2.2" height="3" fill="#24581a"/><line x1="1496.6" y1="102.6" x2="1495.6" y2="105" stroke="#2b2b2b" stroke-width="1.8" stroke-linecap="round"/><line x1="1503.8" y1="102.6" x2="1505" y2="105" stroke="#2b2b2b" stroke-width="1.8" stroke-linecap="round"/><polyline points="1500.2,93.2 1500.2,97.9 1503.4,97.9" fill="none" stroke="#d5e8cb" stroke-width="1.7"/><path d="M1695,94.6 L1695,92.1 Q1695,91.1 1694,91.1 L1684.2,91.1 Q1683.2,91.1 1683.2,92.1 L1683.2,106.6 Q1683.2,107.6 1684.2,107.6 L1687.2,107.6" fill="none" stroke="#f2f4f6" stroke-width="2" stroke-linecap="round"/><line x1="1686.2" y1="94.6" x2="1691" y2="94.6" stroke="#e8ebee" stroke-width="1.3"/><line x1="1686.2" y1="97.5" x2="1690" y2="97.5" stroke="#e8ebee" stroke-width="1.3"/><polygon points="1692.90,97.80 1694.25,101.14 1697.85,101.39 1695.09,103.71 1695.96,107.21 1692.90,105.30 1689.84,107.21 1690.71,103.71 1687.95,101.39 1691.55,101.14" fill="#fff"/><rect x="443.3" y="188.3" width="15" height="3.1" rx="1" fill="#222"/><rect x="445" y="187.2" width="1.9" height="2.4" rx="0.9" fill="#222"/><rect x="454.6" y="187.2" width="1.9" height="2.4" rx="0.9" fill="#222"/><rect x="443.3" y="193" width="15" height="10.6" rx="1" fill="#222"/><rect x="444.70" y="195.3" width="1.6" height="1.5" fill="#cfd3d8"/><rect x="447.30" y="195.3" width="1.6" height="1.5" fill="#cfd3d8"/><rect x="449.90" y="195.3" width="1.6" height="1.5" fill="#cfd3d8"/><rect x="452.50" y="195.3" width="1.6" height="1.5" fill="#cfd3d8"/><rect x="455.10" y="195.3" width="1.6" height="1.5" fill="#cfd3d8"/><rect x="444.70" y="198.1" width="1.6" height="1.5" fill="#cfd3d8"/><rect x="447.30" y="198.1" width="1.6" height="1.5" fill="#cfd3d8"/><rect x="449.90" y="198.1" width="1.6" height="1.5" fill="#cfd3d8"/><rect x="452.50" y="198.1" width="1.6" height="1.5" fill="#cfd3d8"/><rect x="455.10" y="198.1" width="1.6" height="1.5" fill="#cfd3d8"/><rect x="444.70" y="200.9" width="1.6" height="1.5" fill="#cfd3d8"/><rect x="447.30" y="200.9" width="1.6" height="1.5" fill="#cfd3d8"/><rect x="449.90" y="200.9" width="1.6" height="1.5" fill="#cfd3d8"/><rect x="452.50" y="200.9" width="1.6" height="1.5" fill="#cfd3d8"/><rect x="455.10" y="200.9" width="1.6" height="1.5" fill="#cfd3d8"/><polyline points="1164.7,193.5 1170.25,199.6 1175.8,193.5" fill="none" stroke="#222" stroke-width="2.4" stroke-linecap="round" stroke-linejoin="round"/><polyline points="1768.2,131.5 1773.75,137.8 1779.3,131.5" fill="none" stroke="#222" stroke-width="2.4" stroke-linecap="round" stroke-linejoin="round"/><polygon points="322,402 322,466.5 312.5,458 312.5,410.5" fill="#b4b8bc"/><polygon points="319.5,430.8 319.5,437.4 315.4,434.1" fill="#fff"/><text x="172.2" y="525.7" font-family="Liberation Sans, sans-serif" font-weight="700" font-size="12.3" fill="#fff" stroke="#1aab56" stroke-width="4.6" stroke-linejoin="round" paint-order="stroke" textLength="28.6" lengthAdjust="spacingAndGlyphs">NEW</text><text x="1144.4" y="87.2" font-family="Liberation Sans, sans-serif" font-weight="700" font-size="8.6" fill="#fbe9d8" textLength="19.4" lengthAdjust="spacingAndGlyphs">NEW</text><text x="1647.2" y="19.8" font-family="Liberation Sans, sans-serif" font-weight="700" font-size="10.8" fill="#fff">4</text></svg>
<div style="left:1848px;top:0px;width:11px;height:1129px;background:#fff;"></div>
<div style="left:0px;top:1118px;width:1859px;height:11px;background:#fff;"></div>
<div style="left:0px;top:0px;width:10px;height:1129px;background:#fff;"></div>
<div style="left:0px;top:0px;width:1859px;height:10px;background:#fff;"></div>
</div></body></html>
